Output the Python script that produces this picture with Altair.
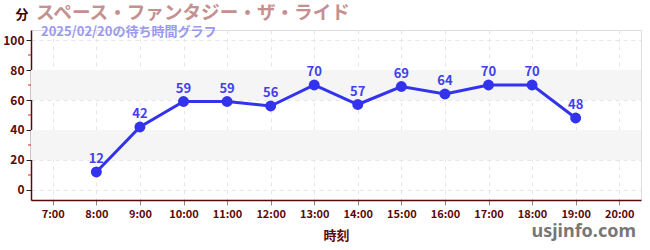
import altair as alt
import pandas as pd

hours = [8, 9, 10, 11, 12, 13, 14, 15, 16, 17, 18, 19]
waits = [12, 42, 59, 59, 56, 70, 57, 69, 64, 70, 70, 48]
band_lo = [20, 60]
band_hi = [40, 80]
minor_ticks = [10, 30, 50, 70, 90]
x_ticks = list(range(7, 21))
y_ticks = [0, 20, 40, 60, 80, 100]

title_text = "スペース・ファンタジー・ザ・ライド"
subtitle_text = "2025/02/20の待ち時間グラフ"
FONT = "Noto Sans CJK JP"
BLUE = "#3333ee"
MAROON = "#5a0a0a"

df = pd.DataFrame({"hour": hours, "wait": waits})
bands = pd.DataFrame({"lo": band_lo, "hi": band_hi})
minor = pd.DataFrame({"v": minor_ticks})
one = pd.DataFrame({"k": [0]})

xscale = alt.Scale(domain=[6.5, 20.5], nice=False, zero=False)
yscale = alt.Scale(domain=[-6.67, 106.67], nice=False, zero=False)

xaxis = alt.Axis(values=x_ticks, labelExpr="datum.value + ':00'", title="時刻",
                 labelFont=FONT, labelFontSize=11, labelFontWeight="bold", labelColor=MAROON,
                 titleFont=FONT, titleFontSize=13, titleFontWeight="bold", titleColor=MAROON,
                 titlePadding=10, domainColor=MAROON, domainWidth=1.5,
                 tickColor="#888888", tickSize=5, labelOverlap=False,
                 grid=True, gridColor="#e6e6e6", gridDash=[4, 4], labelPadding=3)
yaxis = alt.Axis(values=y_ticks, title=None,
                 labelFont=FONT, labelFontSize=12, labelFontWeight="bold", labelColor=MAROON,
                 domainColor=MAROON, domainWidth=1.5, tickColor="#222222", tickSize=5,
                 labelOverlap=False,
                 grid=True, gridColor="#e6e6e6", gridDash=[4, 4], labelPadding=2)

band_layer = alt.Chart(bands).mark_rect(color="#f5f5f5").encode(
    y=alt.Y("lo:Q", scale=yscale, axis=yaxis),
    y2="hi:Q",
    x=alt.value(0), x2=alt.value(610),
)

minor_layer = alt.Chart(minor).mark_rule(color="#dd2222", strokeWidth=1).encode(
    y=alt.Y("v:Q", scale=yscale, axis=yaxis),
    x=alt.value(-3), x2=alt.value(0),
)

base = alt.Chart(df).encode(
    x=alt.X("hour:Q", scale=xscale, axis=xaxis),
    y=alt.Y("wait:Q", scale=yscale, axis=yaxis),
)
line = base.mark_line(color=BLUE, strokeWidth=3)
pts = base.mark_circle(color=BLUE, size=120, opacity=1)
labels = base.mark_text(color="#3f3fee", font=FONT, fontSize=13, fontWeight="bold",
                        dy=-13).encode(text="wait:Q")

title = alt.Chart(one).mark_text(text=title_text, font=FONT, fontSize=18.6, fontWeight="bold",
                                 color="#c49090", align="left", baseline="middle").encode(
    x=alt.value(5), y=alt.value(-17))
subtitle = alt.Chart(one).mark_text(text=subtitle_text, font=FONT, fontSize=13, fontWeight="bold",
                                    color="#9a9af0", align="left", baseline="middle").encode(
    x=alt.value(10), y=alt.value(2))
fen = alt.Chart(one).mark_text(text="分", font=FONT, fontSize=13, fontWeight="bold",
                               color="#3a0505", align="center", baseline="middle").encode(
    x=alt.value(-9), y=alt.value(-15))
wm = alt.Chart(one).mark_text(text="usjinfo.com", font="Noto Sans", fontSize=18, fontWeight="bold",
                              color="#777777", align="right", baseline="middle").encode(
    x=alt.value(605), y=alt.value(202))

chart = alt.layer(band_layer, minor_layer, line, pts, labels, title, subtitle, fen, wm).properties(
    width=610, height=170,
    autosize=alt.AutoSizeParams(type="none"),
    padding={"left": 31, "top": 30, "right": 9, "bottom": 50},
).configure_view(stroke=None).configure(background="white")

chart.save("out.html", embed_options={"renderer": "svg", "actions": False})
